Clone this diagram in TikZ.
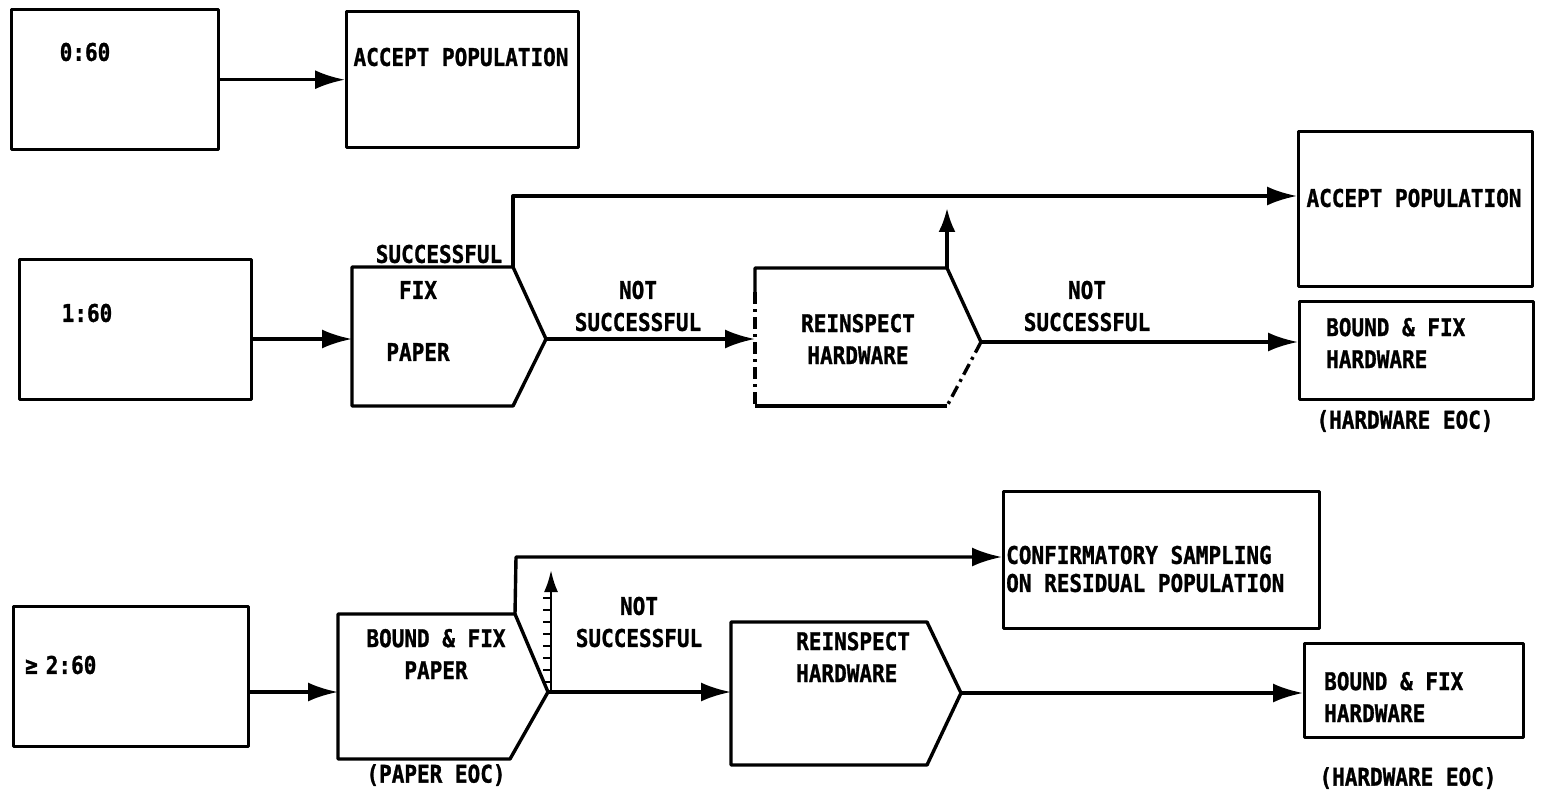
\documentclass[tikz,border=0pt]{standalone}
\usepackage{fontspec}
\usepackage{graphicx}
\newfontfamily\typ[BoldFeatures={FakeBold=1.2}]{DejaVu Sans Mono}
\newcommand{\tx}[1]{\scalebox{1}[1.16]{#1}}
\usetikzlibrary{arrows.meta}
\begin{document}
\begin{tikzpicture}[x=1pt,y=-1pt,
  ln/.style={line width=3.4pt, line join=round},
  box/.style={draw, ln, rectangle, inner sep=0pt, anchor=north west},
  arr/.style={ln, -{Latex[length=30pt,width=19pt]}},
  lbl/.style={font=\typ\bfseries\fontsize{21}{32}\selectfont, inner sep=0pt, align=center},
  lbll/.style={lbl, align=left, anchor=west},
  dd/.style={ln, dash pattern=on 12pt off 5pt on 3pt off 5pt},
]
\useasboundingbox (0,0) rectangle (1541,794);

% ---------- row 1 ----------
\node[box, minimum width=207pt, minimum height=140pt] (a0) at (10,8) {};
\node[box, minimum width=232pt, minimum height=136pt] (acc1) at (345,10) {};
\node[lbl] (t00) at (85,52) {\tx{0:60}};
\node[lbl] (tacc1) at (461,57) {\tx{ACCEPT POPULATION}};
\draw[arr] (a0.east) -- (acc1.west);

% ---------- row 2 ----------
\node[box, minimum width=232pt, minimum height=140pt] (b1) at (18,258) {};
\node[lbl] (t160) at (87,313) {\tx{1:60}};

\coordinate (fpNW) at (352,267);
\coordinate (fpNE) at (513,267);
\coordinate (fpT)  at (546,339);
\coordinate (fpSE) at (513,406);
\coordinate (fpSW) at (352,406);
\coordinate (fpW)  at (352,339);
\draw[ln] (fpNW) -- (fpNE) -- (fpT) -- (fpSE) -- (fpSW) -- cycle;
\node[lbl] (tfix) at (418,290) {\tx{FIX}};
\node[lbl] (tpaper) at (418,352) {\tx{PAPER}};
\node[lbl] (tsucc) at (439,254) {\tx{SUCCESSFUL}};

\coordinate (rhNW) at (755,268);
\coordinate (rhNE) at (947,268);
\coordinate (rhT)  at (981,342);
\coordinate (rhSE) at (947,406);
\coordinate (rhSW) at (755,406);
\coordinate (rhW)  at (755,339);
\coordinate (rhL)  at (755,292);
\draw[ln] (rhSW) -- (rhSE);
\draw[ln] (rhL) -- (rhNW) -- (rhNE) -- (rhT);
\draw[dd] (rhT) -- (rhSE);
\draw[dd] (rhL) -- (rhSW);
\node[lbl] (trh1) at (858,339) {\tx{REINSPECT}\\\tx{HARDWARE}};

\node[box, minimum width=234pt, minimum height=155pt] (acc2) at (1297,130) {};
\node[lbl] (tacc2) at (1414,198) {\tx{ACCEPT POPULATION}};
\node[box, minimum width=234pt, minimum height=98pt] (bfh1) at (1298,300) {};
\node[lbll] (tbfh1) at (1326,343) {\tx{BOUND \& FIX}\\\tx{HARDWARE}};
\node[lbl] (teoc1) at (1405,421) {\tx{(HARDWARE EOC)}};

\coordinate (succUp) at (513,196);
\draw[arr] (fpNE) -- (succUp) -- (succUp -| acc2.west);
\draw[arr] (fpT) -- (fpT -| rhW);
\draw[arr] (b1.east |- fpW) -- (fpW);
\coordinate (rhUp) at (947,208);
\draw[arr, -{Latex[length=24pt,width=17pt]}] (rhNE) -- (rhUp);
\node[lbl] (tns1) at (638,306) {\tx{NOT}\\\tx{SUCCESSFUL}};
\draw[arr] (rhT) -- (rhT -| bfh1.west);
\node[lbl] (tns2) at (1087,306) {\tx{NOT}\\\tx{SUCCESSFUL}};

% ---------- row 3 ----------
\node[box, minimum width=235pt, minimum height=140pt] (b2) at (12,605) {};
\node[lbl, anchor=west] (t260) at (25,665) {\tx{≥\kern8pt2:60}};

\coordinate (bpNW) at (338,614);
\coordinate (bpNE) at (515,614);
\coordinate (bpT)  at (548,692);
\coordinate (bpSE) at (510,759);
\coordinate (bpSW) at (338,759);
\coordinate (bpW)  at (338,692);
\draw[ln] (bpNW) -- (bpNE) -- (bpT) -- (bpSE) -- (bpSW) -- cycle;
\node[lbl] (tbfp) at (436,654) {\tx{BOUND \& FIX}\\\tx{PAPER}};
\node[lbl] (tpeoc) at (436,775) {\tx{(PAPER EOC)}};

\coordinate (r2NW) at (731,622);
\coordinate (r2NE) at (927,622);
\coordinate (r2T)  at (961,693);
\coordinate (r2SE) at (927,765);
\coordinate (r2SW) at (731,765);
\coordinate (r2W)  at (731,693);
\draw[ln] (r2NW) -- (r2NE) -- (r2T) -- (r2SE) -- (r2SW) -- cycle;
\node[lbll] (trh2) at (796,657) {\tx{REINSPECT}\\\tx{HARDWARE}};

\node[box, minimum width=316pt, minimum height=137pt] (conf) at (1002,490) {};
\node[lbll, font=\typ\bfseries\fontsize{21}{28}\selectfont] (tconf) at (1006,569) {\tx{CONFIRMATORY SAMPLING}\\\tx{ON RESIDUAL POPULATION}};
\node[box, minimum width=219pt, minimum height=94pt] (bfh2) at (1303,642) {};
\node[lbll] (tbfh2) at (1324,697) {\tx{BOUND \& FIX}\\\tx{HARDWARE}};
\node[lbl] (teoc2) at (1408,778) {\tx{(HARDWARE EOC)}};

\draw[arr] (b2.east |- bpW) -- (bpW);
\coordinate (bpUp) at (516,557);
\draw[arr] (bpNE) -- (bpUp) -- (bpUp -| conf.west);
\draw[arr] (bpT) -- (bpT -| r2W);
\draw[arr] (r2T) -- (r2T -| bfh2.west);
\coordinate (hatchB) at (551,690);
\coordinate (hatchT) at (551,570);
\draw[ln, line width=2.6pt, -{Latex[length=22pt,width=14pt]}] (hatchB) -- (hatchT);
\foreach \yy in {598,610,...,682} \draw[line width=1.8pt] (543,\yy) -- (551,\yy);
\node[lbl] (tns3) at (639,622) {\tx{NOT}\\\tx{SUCCESSFUL}};
\end{tikzpicture}
\end{document}
